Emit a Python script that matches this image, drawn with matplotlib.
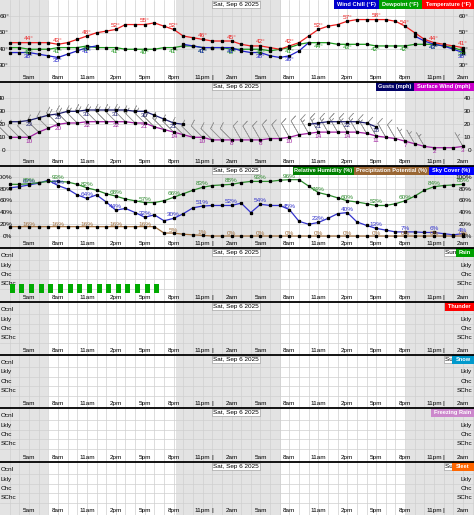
import numpy as np
import matplotlib
matplotlib.use("Agg")
import matplotlib.pyplot as plt
from matplotlib.patches import Rectangle
from matplotlib.lines import Line2D

plt.rcParams['font.family'] = ['Liberation Sans', 'DejaVu Sans']

W, H = 474, 515
PXH = 9.644            # pixels per hour
T_LEFT = 1.993         # hours since Fri 00:00 at the left edge
T_RIGHT = T_LEFT + W / PXH

# hourly series, Fri Sep 5 3am .. Sun Sep 7 2am
hours = np.arange(3, 51)

temperature = [44, 44, 44, 44, 44, 43, 44, 46, 48, 50, 51, 52, 55, 55, 55, 56, 54, 52, 48, 47, 46, 45, 45, 45,
               43, 42, 42, 41, 40, 42, 44, 48, 52, 54, 55, 57, 58, 58, 58, 58, 57, 54, 50, 46, 44, 43, 42, 41]
dewpoint = [41, 41, 40, 40, 40, 41, 41, 41, 42, 41, 41, 41, 40, 40, 40, 40, 41, 41, 42, 42, 41, 41, 41, 40,
            40, 40, 40, 39, 40, 41, 43, 44, 44, 44, 43, 43, 43, 43, 42, 42, 42, 42, 43, 43, 43, 42, 41, 39]
N = np.nan
wind_chill = [38, 38, 38, 37, 36, 35, 37, 39, 41, 42, N, N, N, N, N, N, N, N, 43, 42, 41, 41, 41, 41,
              39, 38, 38, 36, 35, 36, 39, 44, N, N, N, N, N, N, N, N, N, N, 48, 45, 43, 42, 40, 38]
gusts = [22, 22, 23, 25, 27, 28, 30, 30, 31, 31, 31, 31, 31, 30, 30, 27, 24, 21, 20, N, N, N, N, N,
         N, N, N, N, N, N, N, 20, 21, 22, 22, 22, 22, 21, 18, N, N, N, N, N, N, N, N, N]
surface_wind = [10, 10, 10, 14, 17, 20, 21, 21, 22, 22, 22, 22, 22, 21, 21, 18, 16, 14, 12, 10, 10, 8, 8, 8,
                8, 8, 8, 9, 9, 10, 12, 13, 14, 14, 14, 14, 14, 13, 11, 10, 9, 7, 5, 3, 2, 2, 2, 3]
wind_dir = [315] * 24 + [330] * 24
humidity = [88, 88, 89, 91, 93, 93, 92, 88, 82, 78, 72, 68, 63, 60, 57, 57, 60, 66, 72, 78, 83, 86, 87, 88,
            91, 93, 93, 93, 95, 96, 96, 85, 74, 70, 65, 60, 58, 55, 52, 52, 55, 60, 68, 78, 84, 86, 87, 88]
sky_cover = [82, 84, 87, 90, 95, 86, 80, 70, 64, 70, 58, 44, 47, 40, 32, 36, 26, 30, 38, 48, 51, 52, 52, 52,
             56, 40, 54, 52, 52, 45, 25, 20, 23, 30, 38, 40, 24, 18, 13, 10, 7, 7, 7, 6, 6, 4, 2, 4]
precip_potential = [16] * 16 + [5, 5, 3, 2, 1, 0, 0, 0] + [0] * 24
rain = [1] * 16 + [0] * 32          # 1 = slight chance

label_hours = np.arange(5, 51, 3)
hour_names = ['5am', '8am', '11am', '2pm', '5pm', '8pm', '11pm', '2am'] * 2
night_spans = [(T_LEFT, 7.0), (20.2, 31.1), (44.1, T_RIGHT)]
midnights = [24, 48]
date_names = ['Sat, Sep 6 2025', 'Sun, Sep 7 2025']
precip_levels = ['SChc', 'Chc', 'Lkly', 'Ocnl']

GRID = '#cfcfcf'
NIGHT = '#e3e3e3'
FS = 4.6

fig = plt.figure(figsize=(W / 100, H / 100), dpi=100)
fig.patch.set_facecolor('white')


def px2x(p):
    return T_LEFT + p / PXH


def fig_rect(x0, y0, x1, y1, color):
    fig.patches.append(Rectangle((x0 / W, 1 - y1 / H), (x1 - x0) / W, (y1 - y0) / H,
                                 transform=fig.transFigure, facecolor=color, edgecolor='none', zorder=20))


def fig_text(x, y, s, **kw):
    fig.text(x / W, 1 - y / H, s, zorder=21, **kw)


def legend_boxes(top, items):
    for x0, x1, text, color in items:
        fig_rect(x0, top, x1, top + 8.5, color)
        fig_text((x0 + x1) / 2, top + 4.4, text, color='white', fontsize=4.1, fontweight='bold',
                 ha='center', va='center')


def make_panel(top, bottom, vref, pref, scale, hgrid):
    ax = fig.add_axes([0, 1 - bottom / H, 1, (bottom - top) / H])
    y_of = lambda p: vref - (p - pref) / scale
    ax.set_xlim(T_LEFT, T_RIGHT)
    ax.set_ylim(y_of(bottom), y_of(top))
    ax.axis('off')
    for a, b in night_spans:
        ax.axvspan(a, b, color=NIGHT, lw=0, zorder=0)
    for h in range(3, 52):
        ax.axvline(h, color=GRID, lw=0.5, zorder=1)
    for g in hgrid:
        ax.axhline(g, color=GRID, lw=0.5, zorder=1)
    # hour labels along the bottom row
    yl = y_of(bottom - 4.5)
    for h, name in zip(label_hours, hour_names):
        ax.text(h, yl, name, fontsize=FS, ha='center', va='center', zorder=5)
    for m in midnights:
        ax.text(m, yl, '|', fontsize=FS, ha='center', va='center', zorder=5)
    # date headers in small white boxes
    for m, d in zip(midnights, date_names):
        ax.text(m + 0.1, y_of(top + 4.3), d, fontsize=FS, ha='left', va='center', zorder=5,
                bbox=dict(boxstyle='square,pad=0.15', facecolor='white', edgecolor='#909090', lw=0.4))
    return ax, y_of


def series(ax, vals, color, labfmt, dy_px, lw=0.9):
    v = np.array(vals, dtype=float)
    ax.plot(hours, v, color=color, lw=lw, zorder=6)
    ax.plot(hours, v, ls='none', marker='s', ms=1.4, color='black', zorder=7)
    for h in label_hours:
        val = v[h - 3]
        if np.isnan(val):
            continue
        ax.annotate(labfmt.format(int(round(val))), (h, val), xytext=(0, dy_px * 0.72),
                    textcoords='offset points', fontsize=FS, color=color, ha='center', va='center', zorder=8)


def side_labels(ax, y_of, ticks, fmt, lx, rx, rha='right'):
    for t in ticks:
        ax.text(px2x(lx), t, fmt.format(t), fontsize=FS, ha='right', va='center', zorder=5)
        ax.text(px2x(rx), t, fmt.format(t), fontsize=FS, ha=rha, va='center', zorder=5)


# ---- temperature panel ----
ax1, y1 = make_panel(0, 82, 60, 16.3, 1.647, [30, 40, 50, 60])
side_labels(ax1, y1, [60, 50, 40, 30], '{}°', 9, 459, rha='left')
series(ax1, dewpoint, '#1f9a1f', '{}°', -3.5)
series(ax1, wind_chill, '#2222cc', '{}°', -3.5)
series(ax1, temperature, '#ee2222', '{}°', 4)
legend_boxes(0, [(334, 379, 'Wind Chill (°F)', '#0000cc'),
                 (379, 422, 'Dewpoint (°F)', '#00a000'),
                 (422, 474, 'Temperature (°F)', '#ff0000')])

# ---- wind panel ----
ax2, y2 = make_panel(82, 166, 40, 98.3, 1.3, [0, 10, 20, 30, 40])
side_labels(ax2, y2, [40, 30, 20, 10, 0], '{}', 5.5, 471)
spd = np.array(surface_wind, dtype=float)
rad = np.deg2rad(wind_dir)
u = -spd * np.sin(rad)
v = -spd * np.cos(rad)
ax2.barbs(hours, spd, u, v, length=4.8, color='#9a9a9a', lw=0.45, zorder=4,
          sizes=dict(emptybarb=0.0, spacing=0.2, height=0.4))
series(ax2, gusts, '#202070', '{}', -4)
series(ax2, surface_wind, '#a020a0', '{}', -4)
legend_boxes(82, [(376, 414, 'Gusts (mph)', '#000066'),
                  (414, 474, 'Surface Wind (mph)', '#cc00cc')])

# ---- humidity / sky / PoP panel ----
ax3, y3 = make_panel(166, 248, 100, 177.3, 0.587, [0, 20, 40, 60, 80, 100])
side_labels(ax3, y3, [100, 80, 60, 40, 20, 0], '{}%', 12.5, 472)
series(ax3, precip_potential, '#a07040', '{}%', 2.5)
series(ax3, sky_cover, '#3333cc', '{}%', 3.5)
series(ax3, humidity, '#2e8b2e', '{}%', 3.5)
legend_boxes(166, [(293, 354, 'Relative Humidity (%)', '#008000'),
                   (354, 429, 'Precipitation Potential (%)', '#996633'),
                   (429, 474, 'Sky Cover (%)', '#0000ff')])

# ---- precipitation type panels ----
ptype = [('Rain', rain, '#00a000', 456),
         ('Thunder', [0] * 48, '#ff0000', 445),
         ('Snow', [0] * 48, '#0099cc', 452),
         ('Freezing Rain', [0] * 48, '#cc88cc', 431),
         ('Sleet', [0] * 48, '#ff6600', 452)]
tops = [248, 302, 355, 408, 462, 515]
for i, (name, vals, color, lx) in enumerate(ptype):
    T, B = tops[i], tops[i + 1]
    ax, yf = make_panel(T, B, 1, T + 35.8, 9.4, [0.5, 1.5, 2.5, 3.5])
    for k, lev in enumerate(precip_levels, start=1):
        ax.text(px2x(0.5), k, lev, fontsize=FS, ha='left', va='center', zorder=5)
        ax.text(px2x(472), k, lev, fontsize=FS, ha='right', va='center', zorder=5)
    vals = np.array(vals, dtype=float)
    on = vals > 0
    ax.bar(hours[on], vals[on], width=0.52, align='edge', bottom=0, color='#00aa00', zorder=6)
    legend_boxes(T, [(lx, 474, name, color)])

# panel separators
for y in [82, 166, 248, 302, 355, 408, 462]:
    fig.lines.append(Line2D([0, 1], [1 - y / H, 1 - y / H], transform=fig.transFigure,
                            color='black', lw=1.3, zorder=22))

fig.savefig('out.png', dpi=100)
